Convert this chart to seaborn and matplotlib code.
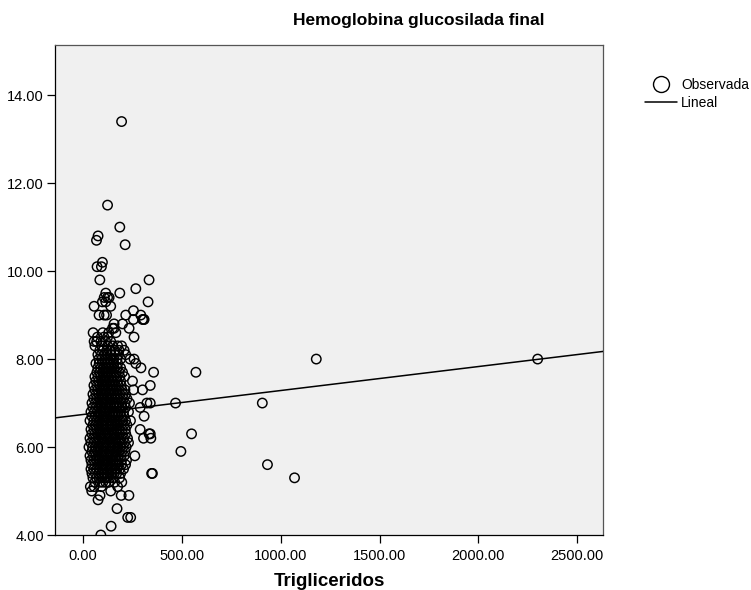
import numpy as np
import pandas as pd
import matplotlib
matplotlib.use("Agg")
import matplotlib.pyplot as plt
from matplotlib.lines import Line2D
import seaborn as sns

# ---- data ----
title = "Hemoglobina glucosilada final"
x_label = "Trigliceridos"
legend_labels = ["Observada", "Lineal"]

x_ticks = [0, 500, 1000, 1500, 2000, 2500]
y_ticks = [4, 6, 8, 10, 12, 14]

# HbA1c levels and the triglyceride values observed at each level
hba1c_levels = [
    4.0, 4.2, 4.4, 4.6, 4.8, 4.9, 5.0, 5.1, 5.2, 5.3, 5.4, 5.5, 5.6, 5.7,
    5.8, 5.9, 6.0, 6.1, 6.2, 6.3, 6.4, 6.5, 6.6, 6.7, 6.8, 6.9, 7.0, 7.1,
    7.2, 7.3, 7.4, 7.5, 7.6, 7.7, 7.8, 7.9, 8.0, 8.1, 8.2, 8.3, 8.4, 8.5,
    8.6, 8.7, 8.8, 8.9, 9.0, 9.1, 9.2, 9.3, 9.4, 9.5, 9.6, 9.8, 10.1, 10.2,
    10.6, 10.7, 10.8, 11.0, 11.5, 13.4,
]
trig_by_level = [
    [90], [142], [226, 241], [172], [76], [86, 193, 232],
    [44, 140], [37, 56, 93, 175],
    [60, 85, 100, 115, 130, 160, 196],
    [50, 68, 80, 95, 110, 122, 135, 150, 185, 1070],
    [45, 62, 78, 95, 108, 120, 133, 145, 158, 170, 190, 347, 351],
    [40, 55, 70, 85, 98, 110, 122, 135, 148, 160, 172, 185, 205],
    [45, 60, 75, 90, 102, 115, 127, 140, 152, 165, 178, 195, 215, 933],
    [40, 55, 68, 82, 95, 107, 118, 130, 142, 155, 167, 180, 195, 220],
    [35, 52, 65, 78, 92, 104, 116, 128, 140, 152, 165, 178, 192, 208, 262],
    [45, 60, 73, 86, 98, 110, 122, 134, 146, 158, 170, 183, 197, 212, 495],
    [30, 48, 63, 77, 90, 102, 114, 126, 138, 150, 162, 175, 188, 202, 218],
    [40, 56, 70, 84, 96, 108, 120, 132, 144, 156, 168, 181, 195, 210, 230],
    [35, 52, 66, 80, 93, 105, 117, 129, 141, 153, 165, 178, 192, 206, 225, 306, 343],
    [45, 60, 74, 88, 100, 112, 124, 136, 148, 160, 173, 186, 200, 216, 334, 340, 549],
    [40, 56, 70, 84, 96, 108, 120, 132, 144, 157, 170, 184, 198, 214, 289],
    [50, 64, 78, 91, 103, 115, 127, 139, 151, 164, 177, 191, 206, 222],
    [35, 55, 70, 84, 97, 109, 121, 133, 146, 159, 172, 186, 200, 215, 240],
    [45, 62, 76, 89, 101, 113, 125, 138, 151, 164, 178, 192, 207, 309],
    [40, 57, 72, 86, 99, 111, 123, 136, 149, 162, 176, 190, 205, 230],
    [50, 66, 80, 93, 105, 117, 130, 143, 156, 169, 183, 198, 215, 289],
    [45, 62, 77, 90, 102, 115, 128, 141, 154, 167, 181, 196, 212, 235, 323, 340, 468, 907],
    [55, 70, 84, 97, 109, 122, 135, 148, 161, 175, 190, 205, 222],
    [50, 66, 80, 93, 106, 119, 132, 145, 158, 172, 187, 202, 215],
    [60, 75, 89, 102, 115, 128, 141, 154, 168, 182, 197, 212, 255, 301],
    [55, 71, 85, 98, 111, 124, 137, 150, 164, 178, 193, 340],
    [65, 80, 94, 107, 120, 133, 146, 160, 174, 190, 250],
    [60, 76, 90, 103, 116, 129, 142, 156, 170, 186, 210],
    [70, 85, 99, 112, 125, 138, 152, 166, 182, 200, 357, 571],
    [75, 90, 104, 117, 130, 144, 158, 173, 190, 293],
    [65, 82, 97, 111, 125, 140, 156, 175, 267],
    [80, 95, 110, 125, 140, 155, 172, 190, 238, 258, 1180, 2300],
    [75, 92, 108, 124, 142, 160, 180, 216],
    [85, 102, 120, 140, 160, 182, 208],
    [60, 95, 125, 150, 175, 195],
    [56, 69, 90, 115, 140],
    [73, 106, 124, 258],
    [51, 100, 130, 166],
    [149, 157, 233],
    [157, 200],
    [255, 301, 306, 309],
    [81, 107, 119, 216, 292],
    [255],
    [56, 140],
    [98, 115, 329],
    [107, 124, 132],
    [115, 186],
    [267],
    [85, 334],
    [71, 93],
    [98],
    [213],
    [68],
    [76],
    [186],
    [124],
    [195],
]

# fitted linear model shown in the chart
reg_intercept = 6.74
reg_slope = 0.000545

rows = []
for level, trig_values in zip(hba1c_levels, trig_by_level):
    for t in trig_values:
        rows.append((t, level))
df = pd.DataFrame(rows, columns=["trig", "hba1c"])

# ---- style ----
sns.set_style("ticks")
plt.rcParams["font.family"] = ["Liberation Sans", "DejaVu Sans"]
plt.rcParams["text.color"] = "black"
plt.rcParams["axes.labelcolor"] = "black"

fig = plt.figure(figsize=(7.51, 5.90), dpi=100)
ax = fig.add_axes([0.0732, 0.0932, 0.7301, 0.8305])
ax.set_facecolor("#F0F0F0")

sns.scatterplot(
    data=df, x="trig", y="hba1c", ax=ax,
    facecolor="none", edgecolor="black", linewidth=1.05, s=46,
    legend=False, zorder=3,
)
ax.axline((0, reg_intercept), slope=reg_slope, color="black", linewidth=1.1, zorder=4)

ax.set_xlim(-142, 2632)
ax.set_ylim(4.0, 15.14)
ax.set_xticks(x_ticks)
ax.set_yticks(y_ticks)
ax.set_xticklabels([f"{v:.2f}" for v in x_ticks])
ax.set_yticklabels([f"{v:.2f}" for v in y_ticks])
ax.tick_params(axis="both", direction="out", length=6, width=0.9,
               colors="black", labelsize=10.5, pad=2)
ax.tick_params(axis="x", pad=4)
for side in ["left", "right", "top", "bottom"]:
    ax.spines[side].set_visible(True)
    ax.spines[side].set_color("black")
    ax.spines[side].set_linewidth(0.9)
ax.spines["right"].set_color("#555555")
ax.spines["top"].set_color("#555555")

ax.set_xlabel(x_label, fontsize=13.5, fontweight="bold", labelpad=7,
              color="black")
ax.set_ylabel("")

fig.text(0.557, 0.966, title, ha="center", va="center",
         fontsize=12.5, fontweight="bold", color="black")

handles = [
    Line2D([], [], marker="o", linestyle="none", markerfacecolor="none",
           markeredgecolor="black", markersize=11.5, markeredgewidth=1.0),
    Line2D([], [], color="black", linewidth=1.1),
]
leg = fig.legend(handles, legend_labels, loc="upper left",
                 bbox_to_anchor=(0.859, 0.868), frameon=False, fontsize=10,
                 handlelength=2.3, handletextpad=0.3, labelspacing=0.3,
                 borderaxespad=0, borderpad=0)
for t in leg.get_texts():
    t.set_color("black")

fig.savefig("out.png", dpi=100)
